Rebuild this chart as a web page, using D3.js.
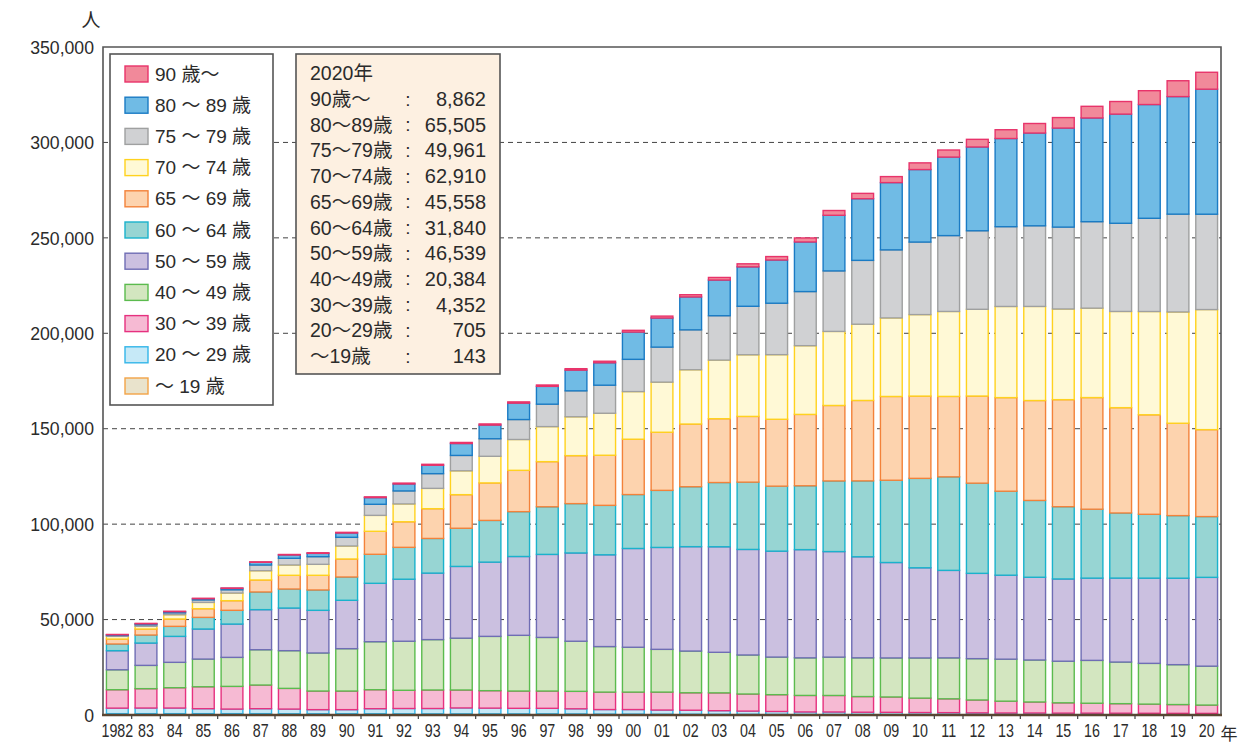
<!DOCTYPE html>
<html>
<head>
<meta charset="utf-8">
<script src="https://cdn.jsdelivr.net/npm/d3@7"></script>
<style>
body{margin:0;background:#fff}
text{font-family:"Liberation Sans",Arial,"Noto Sans CJK JP",sans-serif;fill:#2b2b2b}
</style>
</head>
<body>
<div id="chart"></div>
<script>
var years = [1982,1983,1984,1985,1986,1987,1988,1989,1990,1991,1992,1993,1994,1995,1996,1997,1998,1999,2000,2001,2002,2003,2004,2005,2006,2007,2008,2009,2010,2011,2012,2013,2014,2015,2016,2017,2018,2019,2020]
var xLabels = ["1982","83","84","85","86","87","88","89","90","91","92","93","94","95","96","97","98","99","00","01","02","03","04","05","06","07","08","09","10","11","12","13","14","15","16","17","18","19","20"]
var yTicks = [0,50000,100000,150000,200000,250000,300000,350000]

// age groups, bottom of the stack first
var u19 = [700,700,700,700,700,700,650,650,650,650,600,600,600,600,600,600,550,450,450,400,400,350,350,300,300,280,260,250,240,230,220,200,190,180,170,160,155,150,143]
var a20 = [2900,2950,2950,2600,2400,2600,2450,2150,2150,2650,2800,2800,3100,3000,2900,2900,2700,2400,2400,2200,2100,1900,1700,1550,1300,1300,1200,1150,1050,1000,900,850,850,800,800,780,750,720,705]
var a30 = [9650,10150,10650,11500,11900,12400,10850,9750,9750,9950,9550,9700,9400,9150,9050,9050,9150,9150,9150,9400,9150,9350,8950,8800,8650,8650,8200,8050,7550,7250,6750,6200,5780,5400,5200,5000,4800,4600,4352]
var a40 = [10450,12200,13300,14500,15200,18500,19750,19950,22200,25150,25700,26400,27150,28450,29200,28100,26250,23850,23500,22400,21850,21250,20450,19700,19700,20100,20300,20450,21050,21450,21650,22000,22000,21800,22450,21800,21350,20900,20384]
var a50 = [10000,11700,13600,15750,17450,21000,22350,22350,25350,30600,32500,34850,37600,38900,41300,43500,46250,48100,51750,53400,54700,55300,55300,55500,56700,55300,52950,50000,47250,45850,44700,44000,43350,43100,43100,44000,44650,45300,46539]
var a60 = [3500,4200,5250,6100,7200,9250,9950,10650,12200,15200,16700,18150,20000,21850,23500,24950,25850,25900,28250,29900,31400,33650,35250,34050,33450,37000,39750,43100,46850,49000,47250,44000,40250,37850,36100,34100,33450,32800,31840]
var a65 = [2600,3150,3850,4550,5050,6300,7200,7700,9450,12050,13400,15600,17600,19650,21650,23650,25150,26250,29000,30450,32850,33450,34450,35050,37400,39550,42150,43900,43100,42150,45650,49050,52350,56100,58500,55200,52150,48400,45558]
var a70 = [1400,1400,2250,3300,4000,4850,5400,5750,6800,8350,9350,10650,12500,13950,16150,18350,20350,22000,24950,26250,28450,30700,32300,33850,36000,38800,39950,41150,42700,44500,45450,47750,49300,47500,46850,50400,54100,58300,62910]
var a75 = [500,850,1000,1300,1700,3000,3500,4000,4550,5800,6800,7700,8050,9200,10450,11750,13600,14700,16900,18350,20900,23250,25400,26950,28350,31700,33450,35650,38000,39750,41150,41800,42250,42900,45300,46200,48850,51250,49961]
var a80 = [350,500,600,650,750,1400,1750,1750,2250,3500,3650,4400,6250,7150,8600,9350,10850,11750,14300,15250,17250,18700,20650,22650,26000,29150,32300,35250,38000,41150,43900,46200,48600,51900,54350,57200,59600,61600,65505]
var a90 = [150,200,200,200,200,250,250,300,350,400,450,500,550,600,650,700,750,800,900,1000,1150,1350,1600,1800,2100,2500,2800,3150,3500,3700,4000,4600,5000,5500,6100,6600,7250,8300,8862]

var keys = ["u19","a20","a30","a40","a50","a60","a65","a70","a75","a80","a90"]
var legendLabels = ["〜 19 歳","20 〜 29 歳","30 〜 39 歳","40 〜 49 歳","50 〜 59 歳","60 〜 64 歳","65 〜 69 歳","70 〜 74 歳","75 〜 79 歳","80 〜 89 歳","90 歳〜"]
var infoLabels = ["〜19歳","20〜29歳","30〜39歳","40〜49歳","50〜59歳","60〜64歳","65〜69歳","70〜74歳","75〜79歳","80〜89歳","90歳〜"]
var fills = ["#e9e3cc","#c6e9f7","#f6bad3","#d3e6c0","#cbc0e0","#97d5d3","#fdd3ae","#fff9d6","#d0d1d3","#70bbe5","#f1899a"]
var strokes = ["#f2a347","#33b5e8","#e6317f","#5bbb4e","#6f6db4","#1ab2cc","#f3823a","#ffd21f","#9fa0a0","#1a7bc4","#e8336a"]

var series = {u19:u19,a20:a20,a30:a30,a40:a40,a50:a50,a60:a60,a65:a65,a70:a70,a75:a75,a80:a80,a90:a90}
var rows = years.map(function(yr, i){
    var r = {year: yr}
    keys.forEach(function(k){ r[k] = series[k][i] })
    return r
})

var W = 1256, H = 742
var plotL = 103, plotR = 1221, plotT = 47, plotB = 715

var svg = d3.select("#chart").append("svg").attr("width", W).attr("height", H)

var x = d3.scaleBand().domain(years).range([plotL, plotR]).paddingInner(0.24).paddingOuter(0.12)
var y = d3.scaleLinear().domain([0, 350000]).range([plotB, plotT])
var color = d3.scaleOrdinal().domain(keys).range(fills)
var line = d3.scaleOrdinal().domain(keys).range(strokes)

// dashed grid
svg.append("g").selectAll("line")
    .data(yTicks.filter(function(v){ return v > 0 && v < 350000 }))
    .enter().append("line")
    .attr("x1", plotL).attr("x2", plotR)
    .attr("y1", function(d){ return y(d) }).attr("y2", function(d){ return y(d) })
    .attr("stroke", "#444").attr("stroke-width", 1).attr("stroke-dasharray", "5,4")

// bars
var stacked = d3.stack().keys(keys)(rows)
var layers = svg.append("g").selectAll("g").data(stacked).enter().append("g")
    .attr("fill", function(d){ return color(d.key) })
    .attr("stroke", function(d){ return line(d.key) })
    .attr("stroke-width", 1.4)
layers.selectAll("rect").data(function(d){ return d }).enter().append("rect")
    .attr("x", function(d){ return x(d.data.year) })
    .attr("width", x.bandwidth())
    .attr("y", function(d){ return y(d[1]) })
    .attr("height", function(d){ return Math.max(0, y(d[0]) - y(d[1])) })

// frame + axes
svg.append("path")
    .attr("d", "M" + plotL + "," + plotB + "V" + plotT + "H" + plotR + "V" + plotB)
    .attr("fill", "none").attr("stroke", "#555").attr("stroke-width", 1.6)
svg.append("line").attr("x1", plotL - 1).attr("x2", plotR + 1).attr("y1", plotB).attr("y2", plotB)
    .attr("stroke", "#5a4632").attr("stroke-width", 2.6)

var step = x.step()
svg.append("g").selectAll("line").data(years.slice(1)).enter().append("line")
    .attr("x1", function(d){ return x(d) - step * 0.12 })
    .attr("x2", function(d){ return x(d) - step * 0.12 })
    .attr("y1", plotB).attr("y2", plotB + 4)
    .attr("stroke", "#444").attr("stroke-width", 1.2)

// y labels
svg.append("g").selectAll("text").data(yTicks).enter().append("text")
    .attr("transform", function(d){ return "translate(94," + y(d) + ") scale(0.93,1)" })
    .attr("text-anchor", "end").attr("dominant-baseline", "central")
    .attr("font-size", 19)
    .text(function(d){ return d3.format(",")(d) })

// x labels
svg.append("g").selectAll("text").data(years).enter().append("text")
    .attr("transform", function(d){ return "translate(" + (x(d) + x.bandwidth() / 2) + ",731) scale(0.75,1)" })
    .attr("text-anchor", "middle").attr("dominant-baseline", "central")
    .attr("font-size", 19)
    .text(function(d, i){ return xLabels[i] })

svg.append("text").attr("x", 91).attr("y", 20).attr("text-anchor", "middle")
    .attr("dominant-baseline", "central").attr("font-size", 19).text("人")
svg.append("text").attr("x", 1229).attr("y", 734).attr("text-anchor", "middle")
    .attr("dominant-baseline", "central").attr("font-size", 17).text("年")

// legend
var lg = svg.append("g")
lg.append("rect").attr("x", 110).attr("y", 54).attr("width", 163).attr("height", 351)
    .attr("fill", "#fff").attr("stroke", "#555").attr("stroke-width", 1.6)
var order = keys.slice().reverse()
var item = lg.selectAll("g.item").data(order).enter().append("g").attr("class", "item")
    .attr("transform", function(d, i){ return "translate(0," + (74 + i * 31.2) + ")" })
item.append("rect").attr("x", 125).attr("y", -8).attr("width", 23).attr("height", 16)
    .attr("fill", function(d){ return color(d) }).attr("stroke", function(d){ return line(d) })
    .attr("stroke-width", 1.4)
item.append("text").attr("x", 155).attr("y", 0).attr("dominant-baseline", "central")
    .attr("font-size", 19)
    .text(function(d){ return legendLabels[keys.indexOf(d)] })

// 2020 box
var last = years.length - 1
var ib = svg.append("g")
ib.append("rect").attr("x", 296).attr("y", 54).attr("width", 204).attr("height", 320)
    .attr("fill", "#fdf0e1").attr("stroke", "#555").attr("stroke-width", 1.6)
ib.append("text").attr("x", 310).attr("y", 73).attr("dominant-baseline", "central")
    .attr("font-size", 19.5).text(years[last] + "年")
var rowG = ib.selectAll("g.row").data(order).enter().append("g").attr("class", "row")
    .attr("transform", function(d, i){ return "translate(0," + (99 + i * 25.7) + ")" })
rowG.append("text").attr("x", 310).attr("dominant-baseline", "central").attr("font-size", 19.5)
    .text(function(d){ return infoLabels[keys.indexOf(d)] })
rowG.append("text").attr("x", 408).attr("text-anchor", "middle").attr("dominant-baseline", "central")
    .attr("font-size", 19).text(":")
rowG.append("text").attr("x", 486).attr("text-anchor", "end").attr("dominant-baseline", "central")
    .attr("font-size", 20)
    .text(function(d){ return d3.format(",")(series[d][last]) })
</script>
</body>
</html>
